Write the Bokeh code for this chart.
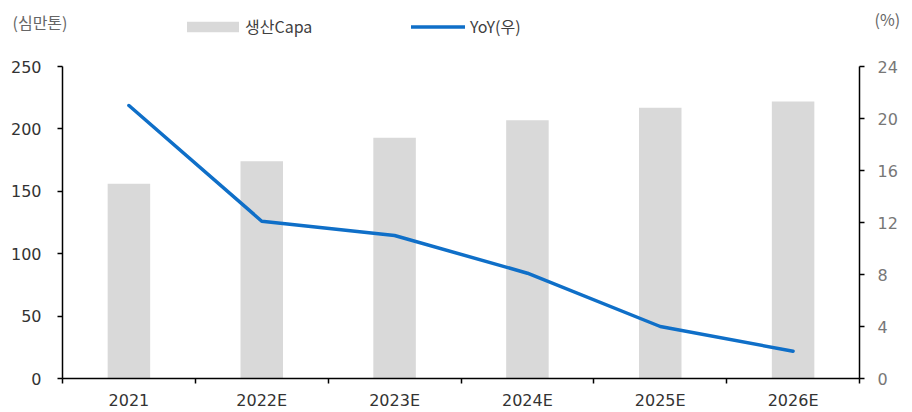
from bokeh.plotting import figure
from bokeh.models import (Range1d, FactorRange, LinearAxis, CategoricalAxis, FixedTicker,
                          Legend, LegendItem, Label, ColumnDataSource)
from bokeh.embed import file_html
from bokeh.resources import INLINE

# Production capacity (10k tonnes) and YoY growth (%, right axis)
years = ["2021", "2022E", "2023E", "2024E", "2025E", "2026E"]
capa = [156, 174, 193, 207, 217, 222]
yoy = [21.0, 12.1, 11.0, 8.1, 4.0, 2.1]

left_ticks = [0, 50, 100, 150, 200, 250]
right_ticks = [0, 4, 8, 12, 16, 20, 24]
left_max, right_max = 250, 24

KFONT = "Noto Sans CJK KR"
NFONT = "DejaVu Sans"
BAR_COLOR = "#d9d9d9"
LINE_COLOR = "#0f6fc8"

# page geometry (pixels): the plotting frame fills the page, the axes are
# pinned at fixed data locations inside it
W, H = 912, 412
FRAME_LEFT = 9
AX_LEFT, AX_RIGHT = 62, 859          # x of the two value axes
AX_TOP, AX_BOTTOM = 66, 378          # y of the top tick and of the baseline

n = len(years)
unit_px = (AX_RIGHT - AX_LEFT) / n
pad_units = (AX_LEFT - FRAME_LEFT) / unit_px   # padding on each side
lpx = (AX_BOTTOM - AX_TOP) / left_max
rpx = (AX_BOTTOM - AX_TOP) / right_max

src = ColumnDataSource(dict(year=years, capa=capa, yoy=yoy))

p = figure(width=W, height=H, output_backend="svg", toolbar_location=None,
           title=None,
           x_range=FactorRange(*years, factor_padding=0,
                               range_padding=pad_units,
                               range_padding_units="absolute"),
           y_range=Range1d(-(H - AX_BOTTOM) / lpx, left_max + AX_TOP / lpx),
           x_axis_location=None, y_axis_location=None,
           min_border=0, min_border_left=FRAME_LEFT, min_border_right=0,
           min_border_top=0, min_border_bottom=0)
p.outline_line_color = None
p.xgrid.visible = False
p.ygrid.visible = False
p.background_fill_color = "white"
p.border_fill_color = "white"

# one factor per category edge, offset by half a unit so that their
# centres fall on the boundaries between the categories
edge_names = ["e%d" % i for i in range(n + 1)]
p.extra_y_ranges = {"pct": Range1d(-(H - AX_BOTTOM) / rpx, right_max + AX_TOP / rpx)}
p.extra_x_ranges = {"edges": FactorRange(factors=edge_names, factor_padding=0,
                                         range_padding=pad_units - 0.5,
                                         range_padding_units="absolute")}

bars = p.vbar(x="year", top="capa", width=0.32, source=src,
              fill_color=BAR_COLOR, line_color=None)
line = p.line(x="year", y="yoy", source=src, y_range_name="pct",
              line_color=LINE_COLOR, line_width=3.5,
              line_cap="round", line_join="round")


def style_value_axis(ax, standoff, color):
    ax.axis_line_color = "black"
    ax.axis_line_width = 1.5
    ax.major_tick_line_color = "black"
    ax.major_tick_line_width = 1.5
    ax.major_tick_out = 5
    ax.major_tick_in = 0
    ax.minor_tick_line_color = None
    ax.major_label_standoff = standoff
    ax.major_label_text_font = NFONT
    ax.major_label_text_font_size = "16px"
    ax.major_label_text_color = color


# left axis (capacity)
ya = LinearAxis(ticker=FixedTicker(ticks=left_ticks), fixed_location=0,
                bounds=(0, left_max))
style_value_axis(ya, 16, "#333333")
p.add_layout(ya, "left")

# right axis (YoY %)
ra = LinearAxis(y_range_name="pct", ticker=FixedTicker(ticks=right_ticks),
                fixed_location=n, bounds=(0, right_max))
style_value_axis(ra, 13, "#777777")
p.add_layout(ra, "right")

# bottom: baseline with category labels
xa = CategoricalAxis(fixed_location=0, bounds=(0, n))
xa.axis_line_color = "black"
xa.axis_line_width = 1.5
xa.major_tick_line_color = None
xa.major_tick_out = 0
xa.major_tick_in = 0
xa.major_label_standoff = 12
xa.major_label_text_font = NFONT
xa.major_label_text_font_size = "16px"
xa.major_label_text_color = "#333333"
p.add_layout(xa, "below")

# bottom: tick marks at category edges
ea = CategoricalAxis(x_range_name="edges", fixed_location=0)
ea.axis_line_color = None
ea.major_tick_line_color = "black"
ea.major_tick_line_width = 1.5
ea.major_tick_out = 5
ea.major_tick_in = 0
ea.major_label_text_font_size = "0px"
ea.major_label_text_color = None
p.add_layout(ea, "below")

# unit captions
p.add_layout(Label(x=12 - FRAME_LEFT, y=H - 21, x_units="screen", y_units="screen",
                   text="(심만톤)", text_font=KFONT, text_font_size="16px",
                   text_color="#666666", text_baseline="middle"))
p.add_layout(Label(x=874 - FRAME_LEFT, y=H - 18, x_units="screen", y_units="screen",
                   text="(%)", text_font=KFONT, text_font_size="16px",
                   text_color="#666666", text_baseline="middle"))

# legends
leg_common = dict(orientation="horizontal", padding=0, margin=0, spacing=0,
                  border_line_color=None, background_fill_alpha=0,
                  label_text_font=KFONT, label_text_font_size="16px",
                  label_text_color="#404040", label_text_baseline="middle")
leg1 = Legend(items=[LegendItem(label="생산Capa", renderers=[bars])],
              location=(180 - FRAME_LEFT, H - 38), glyph_width=65, glyph_height=13,
              label_height=13, label_standoff=0, **leg_common)
leg2 = Legend(items=[LegendItem(label="YoY(우)", renderers=[line])],
              location=(411 - FRAME_LEFT, H - 38), glyph_width=54, glyph_height=13,
              label_height=13, label_standoff=5, **leg_common)
p.add_layout(leg1)
p.add_layout(leg2)

open("out.html", "w").write(file_html(p, INLINE))
